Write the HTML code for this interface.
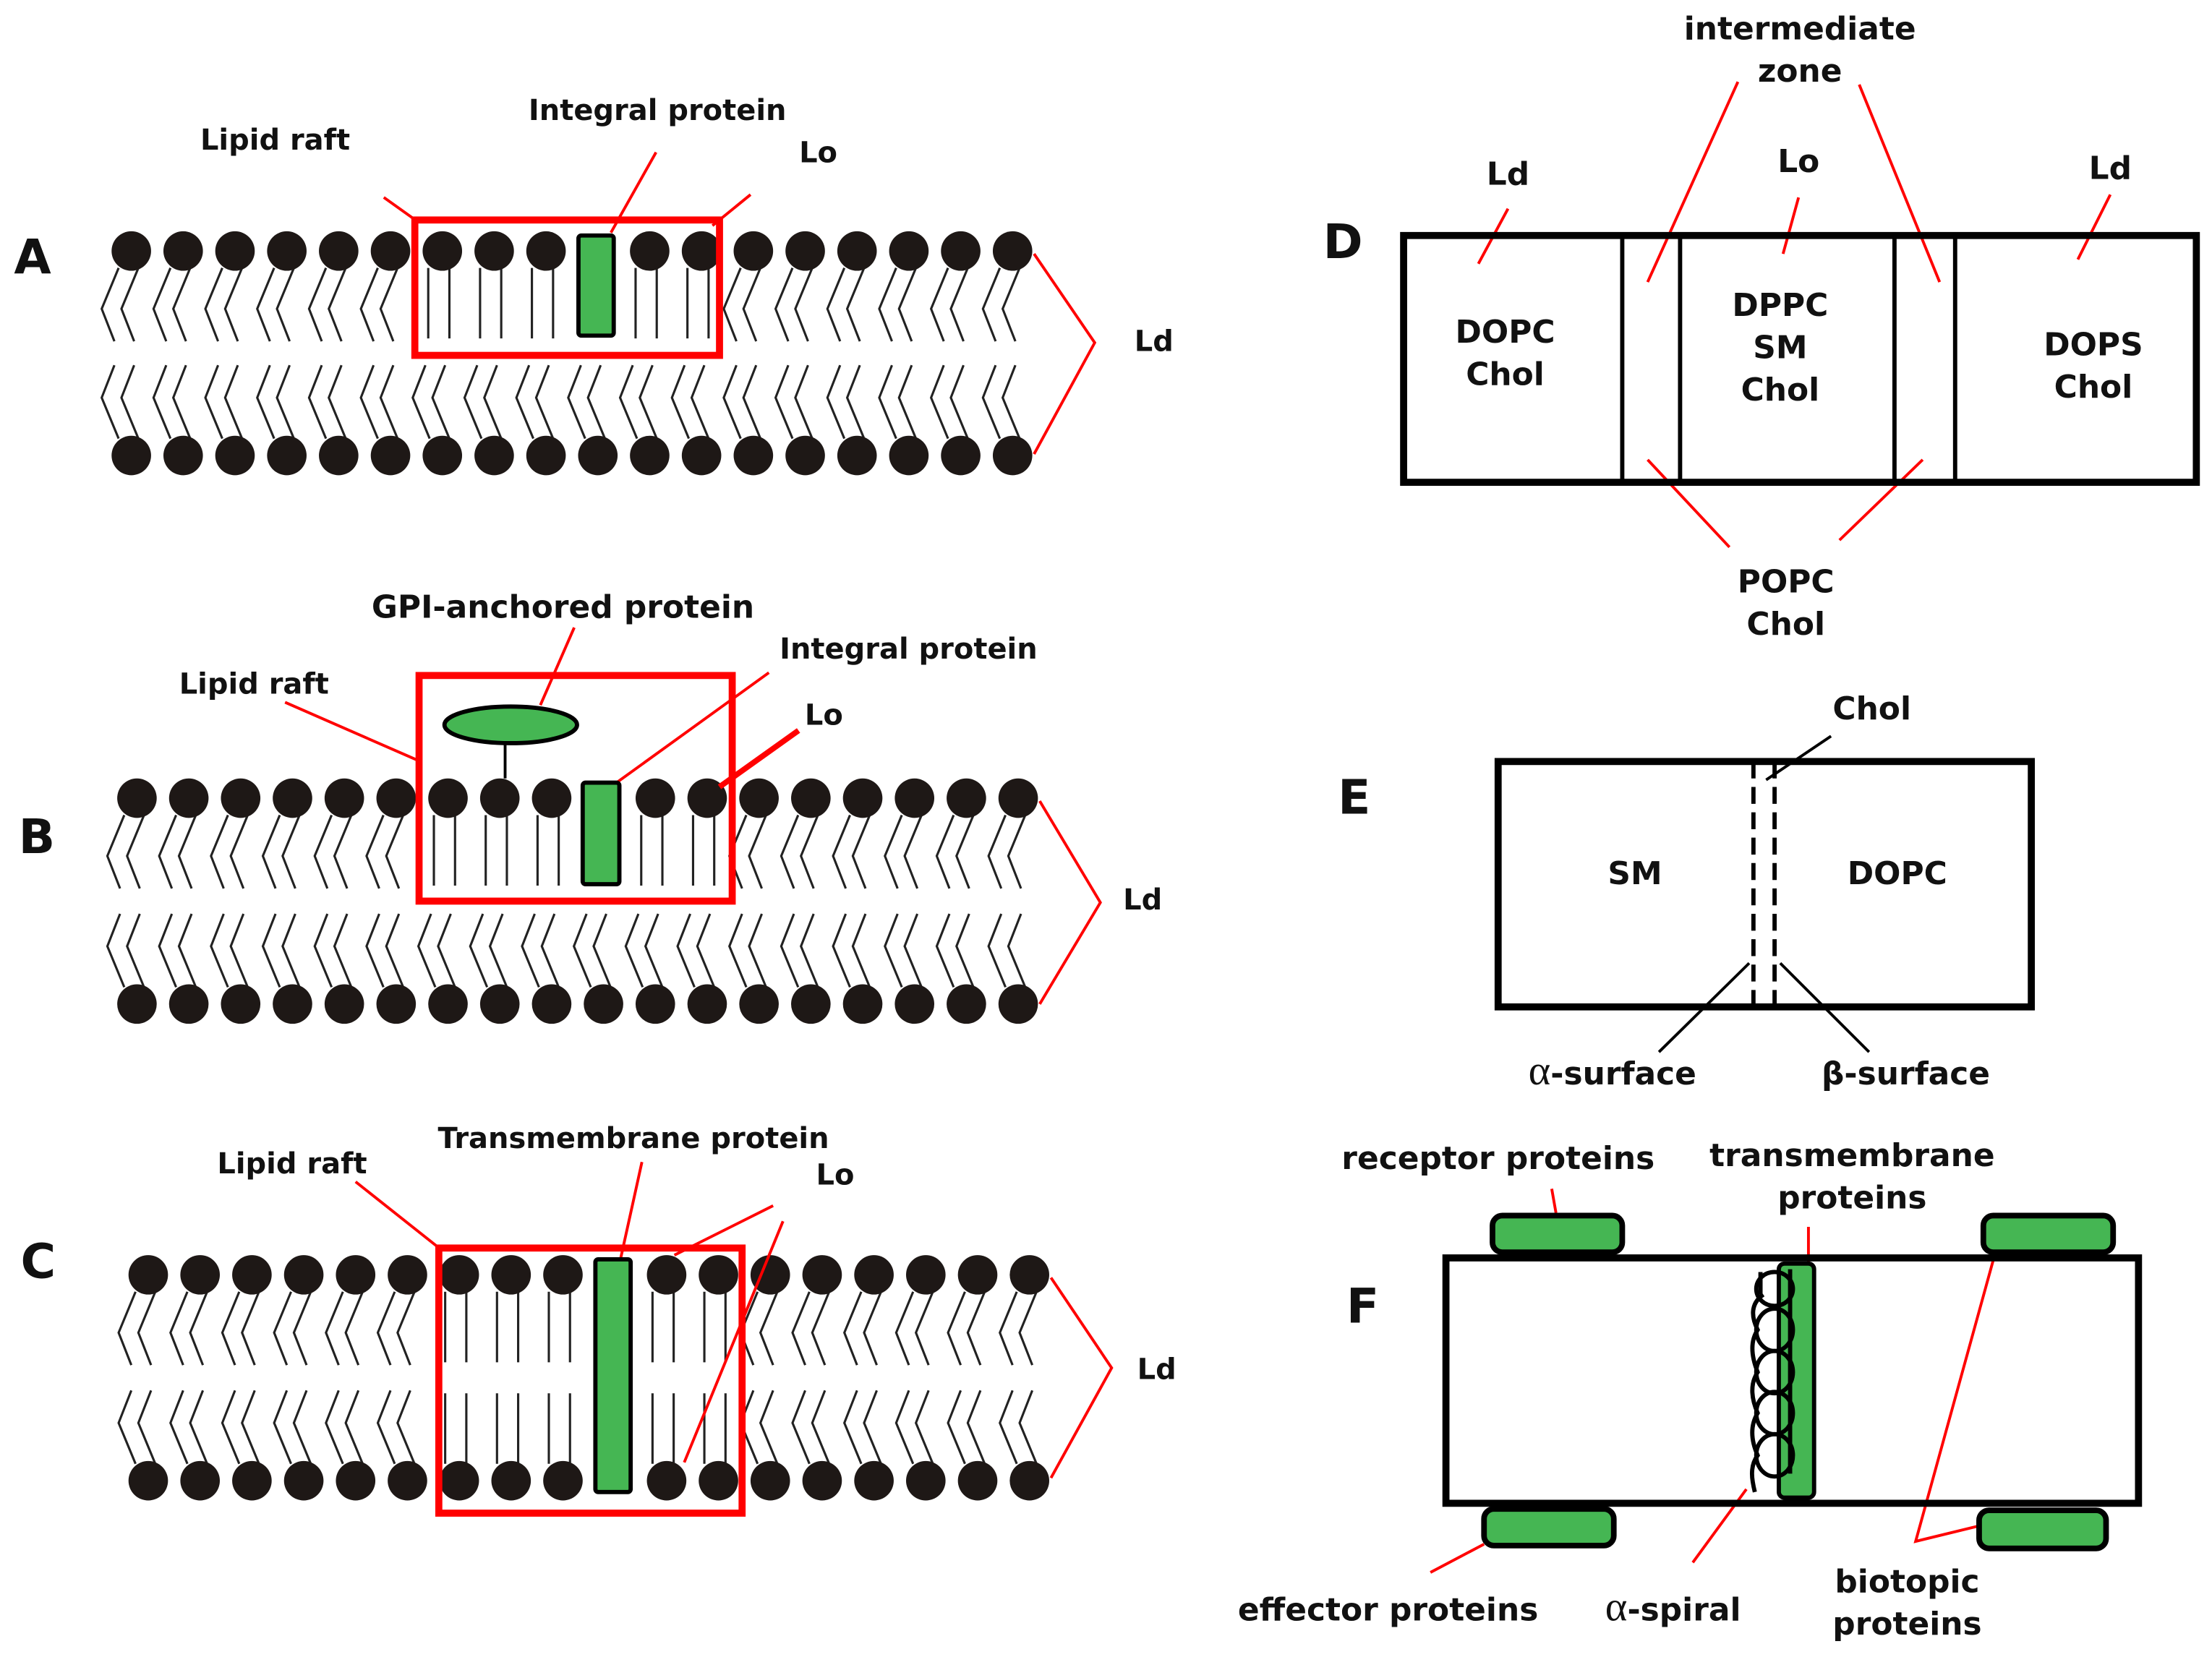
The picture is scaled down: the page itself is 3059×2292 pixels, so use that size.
<!DOCTYPE html>
<html><head><meta charset="utf-8"><style>
html,body{margin:0;padding:0;background:#fff}
svg{display:block}
text{font-family:"DejaVu Sans","Liberation Sans",sans-serif;font-weight:bold;fill:#111}
</style></head><body>
<svg id="s" width="3059" height="2292" viewBox="0 0 1568 1175" xmlns="http://www.w3.org/2000/svg">
<g id="lip"></g>
<g fill="none" stroke="#f00" stroke-width="2">
<rect x="294" y="156" width="216" height="96" stroke-width="5"/>
<path d="M272 140L293 155M465 108L433 165M532 138L505 160M733 180L776 243L733 322"/>
<rect x="297" y="479" width="222" height="160" stroke-width="5"/>
<path d="M407 445L383 500M545 477L437 555M202 498L298 540M737 568L780 640L737 712"/>
<path d="M566 518L510 558" stroke-width="4"/>
<rect x="311" y="885" width="215" height="188" stroke-width="5"/>
<path d="M252 838L310 884M455 824L440 892M548 855L478 890M555 866L485 1037M745 906L788 970L745 1048"/>
<path d="M1069 148L1048 187M1275 140L1264 180M1496 138L1473 184M1232 58L1168 200M1318 60L1375 200M1226 388L1168 326M1304 383L1363 326"/>
<path d="M1100 843L1103 860M1282 870L1282 904M1014 1115L1052 1095M1200 1108L1238 1056M1414 890L1358 1093L1403 1082"/>
</g>
<g fill="#45b653" stroke="#000" stroke-width="3">
<rect x="410" y="167" width="25" height="71" rx="2"/>
<rect x="413" y="555" width="26" height="72" rx="2"/>
<rect x="422" y="893" width="25" height="165" rx="2"/>
<ellipse cx="362" cy="514" rx="47" ry="13"/>
</g>
<line x1="358" y1="527" x2="358" y2="552" stroke="#000" stroke-width="2"/>
<g fill="none" stroke="#000" stroke-width="5">
<rect x="995" y="167" width="562" height="175"/>
<path d="M1150 167V342M1191 167V342M1343 167V342M1386 167V342" stroke-width="3"/>
<rect x="1062" y="540" width="378" height="174"/>
<path d="M1243 540V714M1258 540V714" stroke-width="3" stroke-dasharray="12 6"/>
<path d="M1298 522L1252 553M1176 746L1240 683M1325 746L1262 683" stroke-width="2"/>
</g>
<g fill="#45b653" stroke="#000" stroke-width="4">
<rect x="1058" y="862" width="92" height="26" rx="7"/>
<rect x="1406" y="862" width="92" height="26" rx="7"/>
<rect x="1052" y="1070" width="92" height="26" rx="7"/>
<rect x="1403" y="1071" width="90" height="27" rx="7"/>
</g>
<rect x="1025" y="892" width="491" height="174" fill="none" stroke="#000" stroke-width="5"/>
<rect x="1261" y="896" width="25" height="166" rx="4" fill="#45b653" stroke="#000" stroke-width="3"/>
<g fill="none" stroke="#000" stroke-width="3">
<path d="M1269 900V1045M1248 902V918"/>
<ellipse cx="1258" cy="914" rx="13" ry="12"/>
<ellipse cx="1258" cy="943" rx="13" ry="15"/>
<ellipse cx="1258" cy="973" rx="13" ry="15"/>
<ellipse cx="1258" cy="1002" rx="13" ry="15"/>
<ellipse cx="1258" cy="1032" rx="13" ry="15"/>
<path d="M1250 918C1240 925 1242 935 1246 943C1240 952 1242 963 1246 973C1240 982 1242 993 1246 1002C1240 1012 1242 1023 1246 1032C1240 1040 1242 1050 1244 1058"/>
</g>
<g font-size="20.5" text-anchor="middle">
<text x="195" y="106">Lipid raft</text>
<text x="466" y="85">Integral protein</text>
<text x="580" y="115">Lo</text>
<text x="818" y="249">Ld</text>
<text x="399" y="438" font-size="22.5">GPI-anchored protein</text>
<text x="644" y="467">Integral protein</text>
<text x="180" y="492">Lipid raft</text>
<text x="584" y="514">Lo</text>
<text x="810" y="645">Ld</text>
<text x="207" y="832">Lipid raft</text>
<text x="449" y="814">Transmembrane protein</text>
<text x="592" y="840">Lo</text>
<text x="820" y="978">Ld</text>
<g font-size="22.5">
<text x="1276" y="28">intermediate</text>
<text x="1276" y="58">zone</text>
<text x="1069" y="131">Ld</text>
<text x="1275" y="122">Lo</text>
<text x="1496" y="127">Ld</text>
<text x="1067" y="243">DOPC</text>
<text x="1067" y="273">Chol</text>
<text x="1262" y="224">DPPC</text>
<text x="1262" y="254">SM</text>
<text x="1262" y="284">Chol</text>
<text x="1484" y="252">DOPS</text>
<text x="1484" y="282">Chol</text>
<text x="1266" y="420">POPC</text>
<text x="1266" y="450">Chol</text>
<text x="1327" y="510">Chol</text>
<text x="1159" y="627">SM</text>
<text x="1345" y="627">DOPC</text>
<text x="1143" y="769"><tspan font-family="Liberation Serif" font-weight="normal" font-size="30">α</tspan>-surface</text>
<text x="1351" y="769">β-surface</text>
<text x="1062" y="829">receptor proteins</text>
<text x="1313" y="827">transmembrane</text>
<text x="1313" y="857">proteins</text>
<text x="984" y="1149">effector proteins</text>
<text x="1186" y="1149"><tspan font-family="Liberation Serif" font-weight="normal" font-size="30">α</tspan>-spiral</text>
<text x="1352" y="1129">biotopic</text>
<text x="1352" y="1159">proteins</text>
</g>
</g>
<g font-size="34" text-anchor="middle">
<text x="23" y="194">A</text>
<text x="26" y="605">B</text>
<text x="27" y="906">C</text>
<text x="952" y="183">D</text>
<text x="960" y="577">E</text>
<text x="966" y="938">F</text>
</g>
</svg>
<script>
(function(){
var g=document.getElementById('lip'),h='';
function head(x,y){h+='<ellipse cx="'+x+'" cy="'+y+'" rx="14" ry="14" fill="#1e1816"/>';}
function zig(x,y,up){
 var s=up?1:-1;
 [[-9,-21,-12],[5,-7,2]].forEach(function(t){
  h+='<polyline points="'+(x+t[0])+','+(y+12*s)+' '+(x+t[1])+','+(y+41*s)+' '+(x+t[2])+','+(y+64*s)+'" fill="none" stroke="#222" stroke-width="1.6"/>';});
}
function straight(x,y,len,up){var s=up?1:-1;
 [-10,5].forEach(function(o){h+='<line x1="'+(x+o)+'" y1="'+(y+12*s)+'" x2="'+(x+o)+'" y2="'+(y+len*s)+'" stroke="#222" stroke-width="1.6"/>';});}
function bilayer(x0,yt,yb,upStraight,lowStraight,len){
 for(var i=0;i<18;i++){var x=x0+36.75*i;var raft=(i>=6&&i<=11);
  if(i!==9){
   if(raft&&upStraight){straight(x,yt,len,true);}else zig(x,yt,true);
   head(x,yt);
  }
  if(!(i===9&&lowStraight)){
   if(raft&&lowStraight){straight(x,yb,len,false);}else zig(x,yb,false);
   head(x,yb);
  }
 }
}
bilayer(93,178,323,true,false,62);
bilayer(97,566,712,true,false,62);
bilayer(105,904,1050,true,true,62);
g.innerHTML=h;
})();
</script>
</body></html>
